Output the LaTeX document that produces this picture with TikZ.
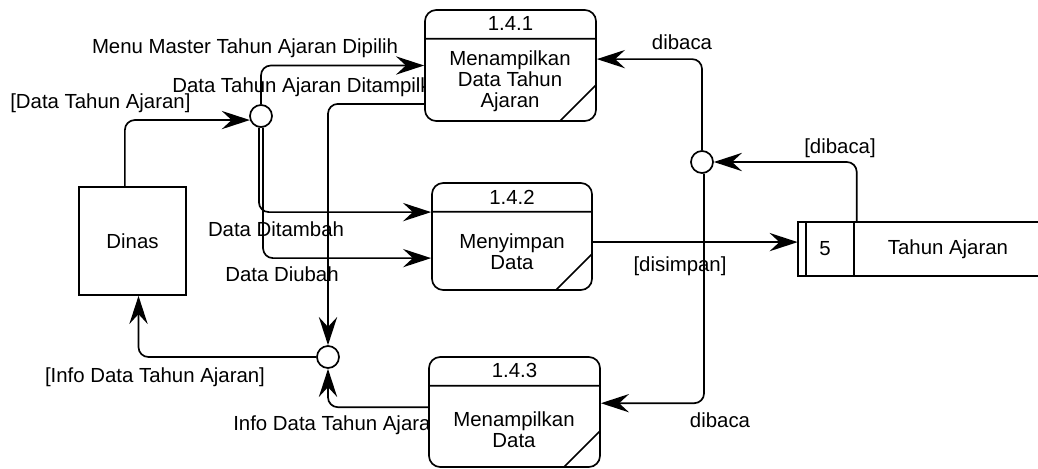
\documentclass[tikz,border=0pt]{standalone}
\usepackage{fontspec}
\setmainfont{Liberation Sans}
\usetikzlibrary{calc,arrows.meta,positioning}
\tikzset{
myProc/.style={
	draw, rectangle, rounded corners=8pt, line width=1.2pt, fill=white,
	inner sep=0pt,
	path picture = {
		\draw[line width=1.2pt]
		($(path picture bounding box.north west)+(0,-0.72cm)$) -- ($(path picture bounding box.north east)+(0,-0.72cm)$)
		($(path picture bounding box.south east)+(-0.9cm,0)$) -- ($(path picture bounding box.south east)+(0,0.9cm)$);
	}
}
, myText/.style={align=center, inner sep=0pt}
, myJunction/.style={
	draw, circle, line width=1.2pt, fill=white,
	minimum size=0.55cm, inner sep=0pt
}
, myEntity/.style={
	draw, rectangle, line width=1.2pt, fill=white,
	minimum width=2.675cm, minimum height=2.7cm
}
, myStore/.style={rectangle, minimum height=1.35cm, minimum width=6.05cm}
, myLabel/.style={inner sep=0pt}
% link
, myFlow/.style={-{Stealth[length=20pt,width=13pt,inset=7pt]}, line width=1.2pt, rounded corners=7pt}
}

\begin{document}
\begin{tikzpicture}[x=0.025cm, y=-0.025cm, font=\fontsize{14.5}{15}\selectfont]
	\useasboundingbox (0,0) rectangle (1038,468);
	% labels
	\node[myLabel, anchor=west] (LDataTA) at (10,103) {[Data Tahun Ajaran]};
	\node[myLabel] (LMenu) at (245,48) {Menu Master Tahun Ajaran Dipilih};
	\node[myLabel, anchor=west] (LTampil) at (172,87) {Data Tahun Ajaran Ditampilkan};
	\node[myLabel] (LTambah) at (276,229) {Data Ditambah};
	\node[myLabel] (LUbah) at (282,274) {Data Diubah};
	\node[myLabel] (LSimpan) at (680,266) {[disimpan]};
	\node[myLabel] (LBacaDS) at (840,148) {[dibaca]};
	\node[myLabel] (LBacaA) at (682,42) {dibaca};
	\node[myLabel] (LBacaB) at (720,420) {dibaca};
	\node[myLabel] (LInfoD) at (155,377) {[Info Data Tahun Ajaran]};
	\node[myLabel, anchor=west] (LInfo) at (233,425) {Info Data Tahun Ajaran};

	% processes
	\node[myProc, minimum width=4.275cm, minimum height=2.775cm] (P1) at (510.5,65.5) {};
	\node[myText] (P1n) at ([yshift=-0.36cm]P1.north) {1.4.1};
	\node[myText] (P1t) at (510,81) {Menampilkan\\Data Tahun\\Ajaran};

	\node[myProc, minimum width=4.0cm, minimum height=2.675cm] (P2) at (512,236.5) {};
	\node[myText] (P2n) at ([yshift=-0.37cm]P2.north) {1.4.2};
	\node[myText] (P2t) at (512,252) {Menyimpan\\Data};

	\node[myProc, minimum width=4.275cm, minimum height=2.75cm] (P3) at (514.5,412) {};
	\node[myText] (P3n) at ([yshift=-0.36cm]P3.north) {1.4.3};
	\node[myText] (P3t) at (514,430) {Menampilkan\\Data};

	% entity
	\node[myEntity] (D) at (132.5,241) {Dinas};

	% data store
	\node[myStore] (DS) at (919,249) {};
	\draw[line width=1.2pt] (DS.north east) -- (DS.north west) -- (DS.south west) -- (DS.south east);
	\draw[line width=1.2pt] ($(DS.north west)+(0.2cm,0)$) -- ($(DS.south west)+(0.2cm,0)$);
	\draw[line width=1.2pt] ($(DS.north west)+(1.4cm,0)$) -- ($(DS.south west)+(1.4cm,0)$);
	\node[myText] (DSn) at (825,249) {5};
	\node[myText] (DSt) at (948,249) {Tahun Ajaran};

	% junctions
	\node[myJunction] (J1) at (261,116) {};
	\node[myJunction] (J2) at (702,162) {};
	\node[myJunction] (J3) at (328,357) {};

	% links
	\draw[myFlow] ([xshift=-0.19cm]D.north) |- (J1.200);
	\draw[myFlow] (J1.north) |- (P1.west);
	\draw[myFlow] ([yshift=-0.96cm]P1.west) -| (J3.north);
	\draw[myFlow] (J1.260) |- ([yshift=0.61cm]P2.west);
	\draw[myFlow] (J1.280) |- ([yshift=-0.54cm]P2.west);
	\draw[myFlow] ([yshift=-0.14cm]P2.east) -- ([yshift=-0.14cm]P2.east -| DS.west);
	\draw[myFlow] ([xshift=1.475cm]DS.north west) |- (J2.east);
	\draw[myFlow] (J2.north) |- ([yshift=0.16cm]P1.east);
	\draw[myFlow] (J2.-80) |- ([yshift=0.22cm]P3.east);
	\draw[myFlow] (J3.west) -| ([xshift=0.15cm]D.south);
	\draw[myFlow] ([yshift=0.12cm]P3.west) -| (J3.south);
\end{tikzpicture}
\end{document}
